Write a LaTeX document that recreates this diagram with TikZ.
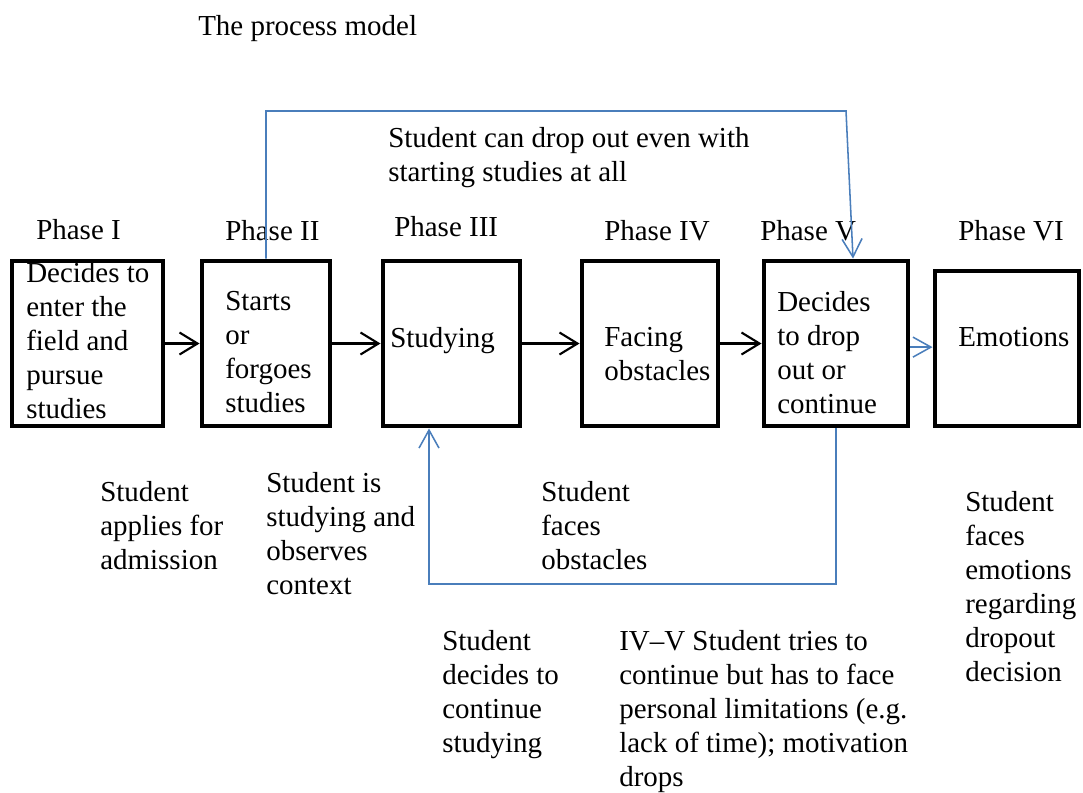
\documentclass[tikz,border=0pt]{standalone}
\usepackage{fontspec}
\setmainfont{Liberation Serif}
\usetikzlibrary{arrows.meta}
\definecolor{linkblue}{RGB}{74,126,187}

\begin{document}
\begin{tikzpicture}[x=0.025cm, y=-0.025cm,
    box/.style={draw, line width=3.5pt, minimum height=4.125cm, inner sep=0pt},
    txt/.style={anchor=north west, align=left, inner sep=0pt,
                font=\fontsize{20.6pt}{24.2pt}\selectfont},
    arr/.style={-{Straight Barb[length=0.45cm, width=0.55cm]}, line width=1.5pt},
    link/.style={-{Straight Barb[length=0.45cm, width=0.5cm]}, linkblue, line width=1.1pt},
]
\useasboundingbox (0,0) rectangle (1083,792);

% Title
\node[txt] (title) at (198,15) {The process model};

% Phase boxes
\node[box, minimum width=3.775cm] (enter) at (87.5,343.5) {};
\node[box, minimum width=3.2cm] (starts) at (266,343.5) {};
\node[box, minimum width=3.425cm] (studying) at (451.5,343.5) {};
\node[box, minimum width=3.4cm] (obstacles) at (650,343.5) {};
\node[box, minimum width=3.6cm] (decides) at (836,343.5) {};
\node[box, minimum width=3.6cm, minimum height=3.875cm] (emotions) at (1007,348.5) {};

% Phase headings
\node[txt] (hone) at (36,219) {Phase I};
\node[txt] (htwo) at (225,220) {Phase II};
\node[txt] (hthree) at (394,216) {Phase III};
\node[txt] (hfour) at (604,220) {Phase IV};
\node[txt] (hfive) at (760,220) {Phase V};
\node[txt] (hsix) at (958,220) {Phase VI};

% Box texts
\node[txt] (tenter) at (26,262) {Decides to\\enter the\\field and\\pursue\\studies};
\node[txt] (tstarts) at (225,291) {Starts\\or\\forgoes\\studies};
\node[txt] (tstudying) at (390,327) {Studying};
\node[txt] (tobstacles) at (604,327) {Facing\\obstacles};
\node[txt] (tdecides) at (777,291) {Decides\\to drop\\out or\\continue};
\node[txt] (temotions) at (958,327) {Emotions};

% Flow between phases
\draw[arr] (enter) -- (starts);
\draw[arr] (starts) -- (studying);
\draw[arr] (studying) -- (obstacles);
\draw[arr] (obstacles) -- (decides);
\draw[link] ([yshift=-0.09cm]decides.east) -- ([yshift=-0.09cm]decides.east -| emotions.west);

% Skip loop over the top
\coordinate (topturn) at (846,111);
\draw[link] (starts.north) |- (topturn) -- ([xshift=0.425cm]decides.north);
\node[txt] (skipnote) at (388,127) {Student can drop out even with\\starting studies at all};

% Return loop underneath
\coordinate (lowturn) at (429,584);
\draw[link] (decides.south) |- (lowturn) -- (lowturn |- studying.south);

% Notes under the boxes
\node[txt] (napply) at (100,481) {Student\\applies for\\admission};
\node[txt] (nobserve) at (266,472) {Student is\\studying and\\observes\\context};
\node[txt] (nfaces) at (541,481) {Student\\faces\\obstacles};
\node[txt] (nemotion) at (965,491) {Student\\faces\\emotions\\regarding\\dropout\\decision};
\node[txt] (ncontinue) at (442,630) {Student\\decides to\\continue\\studying};
\node[txt] (nlimits) at (619,630) {IV--V Student tries to\\continue but has to face\\personal limitations (e.g.\\lack of time); motivation\\drops};
\end{tikzpicture}
\end{document}
